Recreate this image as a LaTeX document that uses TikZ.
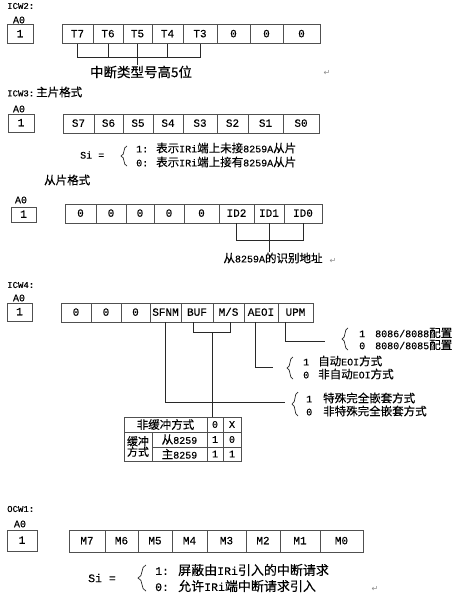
\documentclass[tikz,border=0pt]{standalone}
\usepackage{fontspec}
\setmainfont{Liberation Mono}[FakeBold=0.25]
\newfontfamily\cjk{Noto Sans CJK SC}[FakeBold=0.2]
\newfontfamily\symf{DejaVu Sans}
\usetikzlibrary{decorations.pathreplacing}
\newcommand\zh[1]{{\cjk\fontsize{11.5}{13}\selectfont #1}}
\newcommand\zhL[1]{{\cjk\fontsize{13}{15}\selectfont #1}}
\newcommand\zhT[1]{{\cjk\fontsize{13.5}{15}\selectfont #1}}
\definecolor{cellc}{RGB}{80,80,80}
\definecolor{connc}{RGB}{40,40,40}
\newcommand\regrow[3]{%
  \foreach \xa/\xb/\lab/\nm in {#3} {%
    \node[cell, minimum width={(\xb-\xa)*1pt}, minimum height={(#2-#1)*1pt}]
      (\nm) at ({(\xa+\xb)/2},{(#1+#2)/2}) {\lab};}}
\begin{document}
\begin{tikzpicture}[x=1pt,y=-1pt,
  cell/.style={draw=cellc, line width=0.9pt, inner sep=0pt, outer sep=0pt,
    font=\fontsize{11}{12}\selectfont, text height=6.5pt, text depth=0pt},
  tcell/.style={draw=cellc, line width=0.9pt, inner sep=0pt, outer sep=0pt,
    font=\fontsize{10}{12}\selectfont},
  lbl/.style={inner sep=0pt, font=\fontsize{10}{12}\selectfont},
  lblL/.style={inner sep=0pt, font=\fontsize{11.5}{13}\selectfont},
  hd/.style={inner sep=0pt, font=\fontsize{9}{11}\selectfont},
  pm/.style={inner sep=0pt, text=black!45, font=\symf\fontsize{8}{8}\selectfont},
  conn/.style={draw=connc, line width=0.7pt},
  brc/.style={draw=connc, line width=0.7pt, decorate, decoration={brace, amplitude=6pt}}]
\useasboundingbox[fill=white] (0,0) rectangle (457,597);

% ---------------- ICW2
\node[hd, anchor=west] (h2) at (7,6) {ICW2:};
\node[lbl] (a02) at (19,20) {A0};
\node[cell, minimum width=26pt, minimum height=19pt] (one2) at (20,34) {1};
\regrow{24.5}{43.5}{62/93/T7/r2a, 93/123/T6/r2b, 123/152/T5/r2c, 152/183/T4/r2d, 183/217/T3/r2e, 217/250/0/r2f, 250/283/0/r2g, 283/320/0/r2h}
\node[inner sep=1pt] (t2) at (141,72) {\zhT{中断类型号高5位}};
\coordinate (k2) at (0,57);
\draw[conn] (r2a.south) -- (r2a.south |- k2) -- (r2e.south |- k2) -- (r2e.south);
\draw[conn] (r2b.south) -- (r2b.south |- k2);
\draw[conn] (r2d.south) -- (r2d.south |- k2);
\draw[conn] (r2c.south) -- (r2c.south |- t2.north);
\node[pm] (p1) at (327,73) {↵};

% ---------------- ICW3 master
\node[hd, anchor=west] (h3) at (7,92) {ICW3:\hspace{2pt}\zh{主片格式}};
\node[lbl] (a03) at (19,109) {A0};
\node[cell, minimum width=26pt, minimum height=18pt] (one3) at (21,123) {1};
\regrow{114}{133}{63/94/S7/r3a, 94/123/S6/r3b, 123/153/S5/r3c, 153/183/S4/r3d, 183/217/S3/r3e, 217/248/S2/r3f, 248/283/S1/r3g, 283/319/S0/r3h}
\node[lbl, anchor=west] (si3) at (80,155) {Si =};
\draw[brc] (127,166) -- (127,146);
\node[lbl, anchor=west] (s31) at (136,148) {1: \zh{表示}IRi\zh{端上未接}8259A\zh{从片}};
\node[lbl, anchor=west] (s30) at (136,162) {0: \zh{表示}IRi\zh{端上接有}8259A\zh{从片}};

% ---------------- ICW3 slave
\node[inner sep=0pt, anchor=west] (h3b) at (44,180) {\zh{从片格式}};
\node[lbl] (a03b) at (21,200) {A0};
\node[cell, minimum width=25pt, minimum height=15pt] (one3b) at (23.5,214.5) {1};
\regrow{204}{223}{65/96/0/r6a, 96/126/0/r6b, 126/154/0/r6c, 154/184/0/r6d, 184/219/0/r6e, 219/254/ID2/r6f, 254/284/ID1/r6g, 284/322/ID0/r6h}
\node[lbl] (t3) at (273,258) {\zh{从}8259A\zh{的识别地址}};
\coordinate (k3) at (0,240);
\draw[conn] (r6f.south) -- (r6f.south |- k3) -- (r6h.south |- k3) -- (r6h.south);
\draw[conn] (r6g.south) -- (r6g.south |- t3.north);
\node[pm] (p2) at (333,261) {↵};

% ---------------- ICW4
\node[hd, anchor=west] (h4) at (7,285) {ICW4:};
\node[lbl] (a04) at (19,298) {A0};
\node[cell, minimum width=25pt, minimum height=18pt] (one4) at (19.5,312) {1};
\regrow{303}{322}{61/91/0/r4a, 91/121/0/r4b, 121/150/0/r4c, 150/181/SFNM/r4d, 181/213/BUF/r4e, 213/244/{M/S}/r4f, 244/278/AEOI/r4g, 278/313/UPM/r4h}

% UPM
\coordinate (upE) at (325,341);
\draw[conn] ([xshift=-10pt]r4h.south) |- (upE);
\draw[brc] (348,350) -- (348,328);
\node[lbl, anchor=west] (u1) at (359,333) {1\hspace{10pt}8086/8088\zh{配置}};
\node[lbl, anchor=west] (u0) at (359,345) {0\hspace{10pt}8080/8085\zh{配置}};

% AEOI
\coordinate (aeE) at (273,367);
\draw[conn] ([xshift=-6pt]r4g.south) |- (aeE);
\draw[brc] (293,379) -- (293,357);
\node[lbl, anchor=west] (e1) at (303,361) {1\hspace{9pt}\zh{自动}EOI\zh{方式}};
\node[lbl, anchor=west] (e0) at (303,374) {0\hspace{9pt}\zh{非自动}EOI\zh{方式}};

% SFNM
\coordinate (sfE) at (285,402);
\draw[conn] (r4d.south) |- (sfE);
\draw[brc] (298,416) -- (298,392);
\node[lbl, anchor=west] (f1) at (306,398) {1\hspace{11pt}\zh{特殊完全嵌套方式}};
\node[lbl, anchor=west] (f0) at (306,411) {0\hspace{11pt}\zh{非特殊完全嵌套方式}};

% table
\node[tcell, minimum width=83pt, minimum height=15pt] (tb1) at (165.5,424.5) {\zh{非缓冲方式}};
\node[tcell, minimum width=16pt, minimum height=15pt] (tb2) at (215,424.5) {0};
\node[tcell, minimum width=18pt, minimum height=15pt] (tb3) at (232,424.5) {X};
\node[tcell, minimum width=28pt, minimum height=29pt, align=center,
      font=\cjk\fontsize{11}{10.5}\selectfont] (tb4) at (138,446.5) {缓冲\\方式};
\node[tcell, minimum width=55pt, minimum height=15pt] (tb5) at (179.5,439.5) {\zh{从}8259};
\node[tcell, minimum width=16pt, minimum height=15pt] (tb6) at (215,439.5) {1};
\node[tcell, minimum width=18pt, minimum height=15pt] (tb7) at (232,439.5) {0};
\node[tcell, minimum width=55pt, minimum height=14pt] (tb8) at (179.5,454) {\zh{主}8259};
\node[tcell, minimum width=16pt, minimum height=14pt] (tb9) at (215,454) {1};
\node[tcell, minimum width=18pt, minimum height=14pt] (tb10) at (232,454) {1};

% BUF / M/S bracket
\coordinate (k4) at (0,332);
\coordinate (bb) at ([xshift=-4pt]r4e.south);
\coordinate (bm) at ([xshift=1.5pt]r4f.south);
\draw[conn] (bb) -- (bb |- k4) -- (bm |- k4) -- (bm);
\coordinate (bmid) at (212,332);
\draw[conn] (bmid) -- (bmid |- tb1.north);

% ---------------- OCW1
\node[hd, anchor=west] (h5) at (7,509) {OCW1:};
\node[lbl] (a05) at (20,524) {A0};
\node[cell, minimum width=30pt, minimum height=21pt] (one5) at (22,540.5) {1};
\regrow{530}{552}{69/105/M7/r5a, 105/138/M6/r5b, 138/172/M5/r5c, 172/207/M4/r5d, 207/246/M3/r5e, 246/280/M2/r5f, 280/320/M1/r5g, 320/363/M0/r5h}
\node[lblL, anchor=west] (si5) at (88,578) {Si =};
\draw[brc, decoration={brace, amplitude=8pt}] (146,591) -- (146,565);
\node[lblL, anchor=west] (o1) at (155,570) {1: \zhL{屏蔽由}IRi\zhL{引入的中断请求}};
\node[lblL, anchor=west] (o0) at (155,586) {0: \zhL{允许}IRi\zhL{端中断请求引入}};
\node[pm] (p3) at (375,589) {↵};
\end{tikzpicture}
\end{document}
